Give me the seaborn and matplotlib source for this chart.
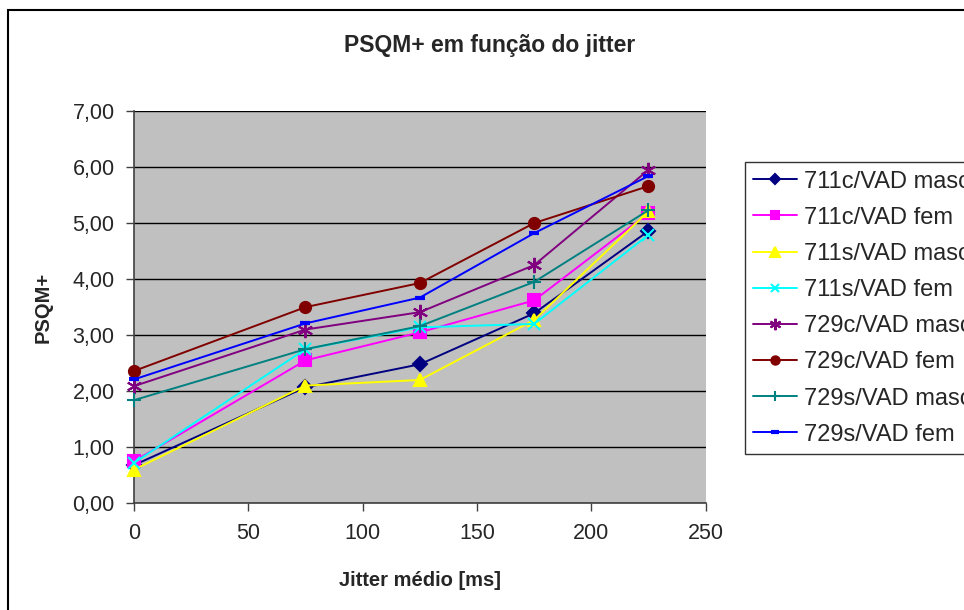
import matplotlib

matplotlib.use("Agg")
import matplotlib.pyplot as plt
from matplotlib.patches import Rectangle
from matplotlib.ticker import FuncFormatter
import pandas as pd
import seaborn as sns

jitter = [0, 75, 125, 175, 225]

c711_masc = [0.68, 2.07, 2.48, 3.39, 4.86]
c711_fem = [0.75, 2.55, 3.05, 3.62, 5.18]
s711_masc = [0.60, 2.10, 2.20, 3.27, 5.21]
s711_fem = [0.72, 2.75, 3.14, 3.20, 4.79]
c729_masc = [2.09, 3.10, 3.41, 4.25, 5.95]
c729_fem = [2.36, 3.50, 3.93, 5.00, 5.66]
s729_masc = [1.84, 2.75, 3.16, 3.95, 5.23]
s729_fem = [2.21, 3.21, 3.67, 4.82, 5.84]

series_names = [
    "711c/VAD masc", "711c/VAD fem", "711s/VAD masc", "711s/VAD fem",
    "729c/VAD masc", "729c/VAD fem", "729s/VAD masc", "729s/VAD fem",
]
series_values = [c711_masc, c711_fem, s711_masc, s711_fem,
                 c729_masc, c729_fem, s729_masc, s729_fem]
colors = ["#000080", "#FF00FF", "#FFFF00", "#00FFFF",
          "#800080", "#800000", "#008080", "#0000FF"]
markers = ["D", "s", "^", "x", (6, 2, 0), "o", "+", "_"]
msizes = [7, 8, 9, 8, 11, 8, 10, 7]

df = pd.DataFrame(
    [(n, x, y) for n, vals in zip(series_names, series_values) for x, y in zip(jitter, vals)],
    columns=["serie", "jitter", "psqm"],
)

sns.set_style("white")
plt.rcParams["font.family"] = ["Liberation Sans", "DejaVu Sans"]

fig = plt.figure(figsize=(9.64, 6.10), dpi=100)
ax = fig.add_axes([0.139, 0.175, 0.593, 0.643])
ax.set_facecolor("#C0C0C0")

for name, col, mk, ms in zip(series_names, colors, markers, msizes):
    sub = df[df["serie"] == name]
    sns.lineplot(
        data=sub, x="jitter", y="psqm", ax=ax, color=col, marker=mk,
        markersize=ms, markeredgecolor=col, markeredgewidth=1.5 if mk != "_" else 3,
        linewidth=1.4, label=name, clip_on=False, zorder=3,
    )

ax.set_xlim(0, 250)
ax.set_ylim(0, 7)
ax.set_xticks(range(0, 251, 50))
ax.set_yticks(range(0, 8))
ax.yaxis.set_major_formatter(FuncFormatter(lambda v, p: f"{v:.2f}".replace(".", ",")))
ax.yaxis.grid(True, color="black", linewidth=1)
ax.set_axisbelow(True)
for s in ["top", "right"]:
    ax.spines[s].set_visible(False)
for s in ["left", "bottom"]:
    ax.spines[s].set_color("#404040")
    ax.spines[s].set_linewidth(1.2)
ax.tick_params(axis="both", direction="out", length=6, width=1, color="#404040",
               labelsize=15.5, pad=8, left=True, bottom=True)

ax.set_xlabel("Jitter médio [ms]", fontsize=14.5, fontweight="bold", labelpad=20)
ax.set_ylabel("PSQM+", fontsize=14.5, fontweight="bold", labelpad=14)
fig.text(0.508, 0.926, "PSQM+ em função do jitter", ha="center", va="center",
         fontsize=16.5, fontweight="bold")

ax.get_legend().remove()
handles, labels = ax.get_legend_handles_labels()
leg = fig.legend(handles, labels, loc="upper left", bbox_to_anchor=(0.773, 0.734),
                 fontsize=17, frameon=True, fancybox=False, handlelength=1.85,
                 handletextpad=0.3, labelspacing=0.6, borderpad=0.35,
                 borderaxespad=0, markerscale=0.75)
leg.get_frame().set_edgecolor("black")
leg.get_frame().set_linewidth(1)

fig.patches.append(Rectangle((8 / 964, -0.2), 1.3, 1.2 - 10 / 610,
                             transform=fig.transFigure, fill=False,
                             edgecolor="black", linewidth=1.5))

fig.savefig("out.png", dpi=100)
plt.close(fig)
